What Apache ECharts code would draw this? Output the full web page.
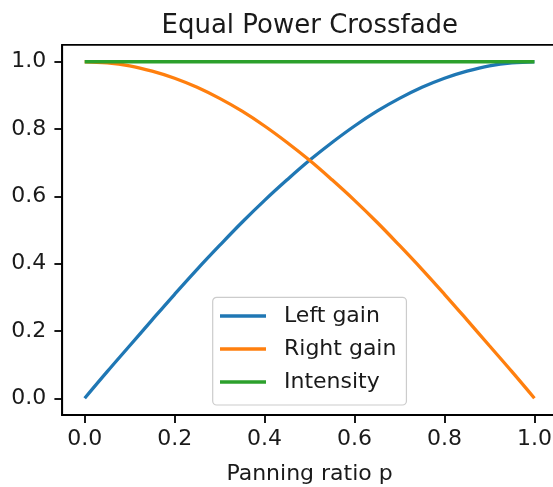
<!DOCTYPE html>
<html>
<head>
<meta charset="utf-8">
<script src="https://cdn.jsdelivr.net/npm/echarts@6/dist/echarts.min.js"></script>
<style>
html,body{margin:0;padding:0;background:#fff;}
#c{width:553px;height:487px;}
</style>
</head>
<body>
<div id="c"></div>
<script>
// Data
var pValues = [0, 0.05, 0.1, 0.15, 0.2, 0.25, 0.3, 0.35, 0.4, 0.45, 0.5, 0.55, 0.6, 0.65, 0.7, 0.75, 0.8, 0.85, 0.9, 0.95, 1.0];
var leftGain = [0, 0.079, 0.156, 0.233, 0.309, 0.383, 0.454, 0.523, 0.588, 0.649, 0.707, 0.760, 0.809, 0.853, 0.891, 0.924, 0.951, 0.972, 0.988, 0.997, 1.0];
var rightGain = [1.0, 0.997, 0.988, 0.972, 0.951, 0.924, 0.891, 0.853, 0.809, 0.760, 0.707, 0.649, 0.588, 0.523, 0.454, 0.383, 0.309, 0.233, 0.156, 0.079, 0];
var intensity = [1, 1, 1, 1, 1, 1, 1, 1, 1, 1, 1, 1, 1, 1, 1, 1, 1, 1, 1, 1, 1];
var seriesNames = ['Left gain', 'Right gain', 'Intensity'];
var xTicks = [0, 0.2, 0.4, 0.6, 0.8, 1.0];
var yTicks = [0, 0.2, 0.4, 0.6, 0.8, 1.0];
var titleText = 'Equal Power Crossfade';
var xLabel = 'Panning ratio p';

function pairs(ys) { return pValues.map(function (p, i) { return [p, ys[i]]; }); }

var FONT = 'DejaVu Sans';
var TXT = '#1a1a1a';
var colors = ['#1f77b4', '#ff7f0e', '#2ca02c'];
var chart = echarts.init(document.getElementById('c'), null, {renderer: 'canvas'});

function axisCommon(ticks) {
  return {
    type: 'value',
    min: -0.05,
    max: 1.05,
    splitLine: {show: false},
    axisLine: {show: true, onZero: false, lineStyle: {color: '#000', width: 1.8}},
    axisTick: {show: true, length: 7.8, lineStyle: {color: '#000', width: 1.8}, customValues: ticks},
    axisLabel: {
      show: true, customValues: ticks, fontFamily: FONT, fontSize: 22, color: TXT,
      formatter: function (v) { return v.toFixed(1); }
    }
  };
}

var xAxis = axisCommon(xTicks);
xAxis.axisLabel.margin = 13;
xAxis.name = xLabel;
xAxis.nameLocation = 'middle';
xAxis.nameGap = 48;
xAxis.nameTextStyle = {fontFamily: FONT, fontSize: 22, color: TXT};

var yAxis = axisCommon(yTicks);
yAxis.axisLabel.margin = 16;

var series = [leftGain, rightGain, intensity].map(function (ys, i) {
  return {
    name: seriesNames[i],
    type: 'line',
    data: pairs(ys),
    showSymbol: false,
    symbol: 'none',
    smooth: 0.4,
    lineStyle: {color: colors[i], width: 3.3},
    itemStyle: {color: colors[i]},
    clip: false,
    animation: false
  };
});

chart.setOption({
  animation: false,
  backgroundColor: '#fff',
  title: {
    text: titleText,
    left: 156.5,
    top: 8,
    textStyle: {fontFamily: FONT, fontSize: 26, fontWeight: 'normal', color: TXT}
  },
  grid: {
    left: 62.2, top: 44.9, width: 494.7, height: 370.2,
    show: true, borderColor: '#000', borderWidth: 1.8, backgroundColor: 'transparent',
    containLabel: false,
    outerBoundsMode: 'none'
  },
  legend: {
    data: seriesNames.map(function (n) { return {name: n, icon: 'rect'}; }),
    orient: 'vertical',
    left: 212.7,
    top: 297.3,
    itemWidth: 46,
    itemHeight: 3.3,
    itemGap: 11,
    padding: [7.7, 10, 12, 7.3],
    backgroundColor: 'rgba(255,255,255,0.8)',
    borderColor: '#cccccc',
    borderWidth: 1.2,
    borderRadius: 4,
    textStyle: {fontFamily: FONT, fontSize: 22, color: TXT, padding: [0, 0, 0, 13], lineHeight: 22}
  },
  xAxis: xAxis,
  yAxis: yAxis,
  series: series
});
</script>
</body>
</html>
